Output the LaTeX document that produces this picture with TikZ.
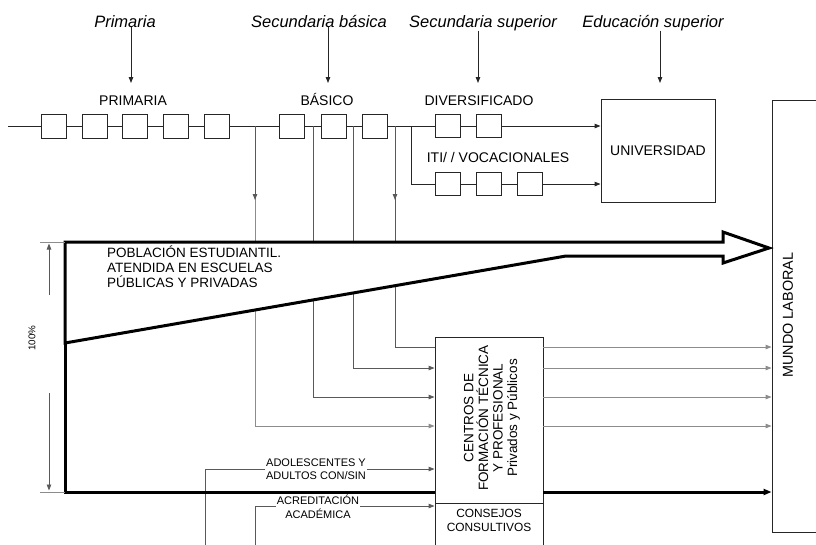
\documentclass[tikz,border=0pt]{standalone}
\usepackage{fontspec}
\setmainfont{Liberation Sans}
\usetikzlibrary{arrows.meta}
\begin{document}
\begin{tikzpicture}[x=1pt,y=-1pt,
  sbox/.style={draw=black!85, line width=0.9pt, minimum width=25pt, minimum height=24pt, inner sep=0pt},
  bigbox/.style={draw=black!85, line width=0.9pt, inner sep=0pt},
  thin/.style={draw=black!85, line width=0.9pt},
  conn/.style={draw=black!65, line width=0.9pt},
  light/.style={draw=black!45, line width=0.9pt},
  tip/.style={-{Triangle[length=6pt,width=4.5pt]}},
  bigtip/.style={-{Triangle[length=8pt,width=6pt]}},
  heavy/.style={line width=3pt, draw=black},
  lab/.style={font=\fontsize{14}{15}\selectfont, inner sep=0pt, anchor=base},
  toplab/.style={font=\fontsize{16.5}{18}\selectfont\itshape, inner sep=0pt, anchor=base},
  small/.style={font=\fontsize{11}{13.5}\selectfont, align=center, fill=white, inner sep=1pt}
]
\useasboundingbox (0,0) rectangle (816,544);
\clip (0,0) rectangle (816,544);

% ---------- top labels ----------
\node[toplab] (tl1) at (125,27) {Primaria};
\node[toplab] (tl2) at (319,27) {Secundaria básica};
\node[toplab] (tl3) at (483,27) {Secundaria superior};
\node[toplab] (tl4) at (653,27) {Educación superior};
\coordinate (a1) at (131,83);
\coordinate (a2) at (328,83);
\coordinate (a3) at (478,83);
\coordinate (a4) at (660,83);
\draw[thin,tip] (tl1.south -| a1) -- (a1);
\draw[thin,tip] (tl2.south -| a2) -- (a2);
\draw[thin,tip] (tl3.south -| a3) -- (a3);
\draw[thin,tip] (tl4.south -| a4) -- (a4);

\node[lab] (lprim) at (133,105) {PRIMARIA};
\node[lab] (lbas) at (327,105) {BÁSICO};
\node[lab] (ldiv) at (479,105) {DIVERSIFICADO};
\node[lab] (liti) at (498,162) {ITI/ / VOCACIONALES};

% ---------- big boxes ----------
\node[bigbox, minimum width=114pt, minimum height=103pt, font=\fontsize{14}{15}\selectfont] (univ) at (658,150.5) {UNIVERSIDAD};
\node[bigbox, minimum width=70pt, minimum height=432pt] (mundo) at (807,316) {};
\node[font=\fontsize{14.4}{15}\selectfont, rotate=90, inner sep=0pt] (mtext) at (788,315) {MUNDO LABORAL};
\node[bigbox, minimum width=108pt, minimum height=166pt] (centros) at (489,420) {};
\node[bigbox, minimum width=108pt, minimum height=60pt, anchor=north] (consejos) at (centros.south) {};
\node[font=\fontsize{11.9}{14}\selectfont, align=center, inner sep=0pt] (ctxt) at (489,520) {CONSEJOS\\CONSULTIVOS};
\node[font=\fontsize{13.5}{14.6}\selectfont, align=center, rotate=90, inner sep=0pt] (cent) at (492,418) {CENTROS DE\\FORMACIÓN TÉCNICA\\Y PROFESIONAL\\Privados y Públicos};

% ---------- level coordinates ----------
\coordinate (yA) at (0,347);
\coordinate (yB) at (0,368);
\coordinate (yC) at (0,397);
\coordinate (yD) at (0,426);
\coordinate (yE) at (0,469);
\coordinate (yF) at (0,506);
\coordinate (yG) at (0,492);

% ---------- chain of boxes ----------
\coordinate (s0) at (8,126);
\foreach \i/\x in {1/53.5,2/94.5,3/135,4/176,5/216.5} \node[sbox] (p\i) at (\x,126) {};
\foreach \i/\x in {1/291.5,2/333.5,3/374.5} \node[sbox] (b\i) at (\x,126) {};
\foreach \i/\x in {1/447.5,2/488.5} \node[sbox, minimum height=23pt] (d\i) at (\x,126) {};
\foreach \i/\x in {1/447.5,2/488.5,3/530} \node[sbox, minimum height=23pt] (i\i) at (\x,184) {};
\coordinate (j1) at (255,126);
\coordinate (j2) at (313,126);
\coordinate (j3) at (353,126);
\coordinate (j4) at (395,126);
\coordinate (j5) at (411,126);
\coordinate (t1) at (255,200);
\coordinate (t4) at (395,200);

\draw[thin] (s0) -- (p1) -- (p2) -- (p3) -- (p4) -- (p5) -- (b1) -- (b2) -- (b3) -- (d1) -- (d2);
\draw[thin] (j5) |- (i1.west);
\draw[thin] (i1) -- (i2) -- (i3);
\draw[thin,tip] (d2) -- (d2 -| univ.west);
\draw[thin,tip] (i3) -- (i3 -| univ.west);

% ---------- descending connectors ----------
\draw[conn] (j4) |- (yA -| centros.west);
\draw[conn,tip] (j3) |- (yB -| centros.west);
\draw[conn,tip] (j2) |- (yC -| centros.west);
\draw[light,tip] (j1) |- (yD -| centros.west);
\draw[conn,tip] (j1) -- (t1);
\draw[conn,tip] (j4) -- (t4);
\coordinate (e1) at (205,560);
\coordinate (e2) at (255,560);
\draw[conn,tip] (e1) |- (yE -| centros.west);
\draw[conn,tip] (e2) |- (yF -| centros.west);

% ---------- outputs ----------
\foreach \c in {yA,yB,yC,yD} \draw[light,tip] (\c -| centros.east) -- (\c -| mundo.west);
\draw[heavy,bigtip] (yG -| centros.east) -- (yG -| mundo.west);

% ---------- big arrow ----------
\draw[heavy, fill=white, line join=miter] (65,343) -- (65,242) -- (723,242) -- (723,232) -- (769,248) -- (723,263) -- (723,256) -- (566,256) -- cycle;
\draw[heavy, line join=miter] (65,341) -- (65,492) -- (yG -| centros.west);
\node[font=\fontsize{13.5}{15}\selectfont, align=left, anchor=north west, inner sep=0pt] (pob) at (107,246) {POBLACIÓN ESTUDIANTIL.\\ATENDIDA EN ESCUELAS\\PÚBLICAS Y PRIVADAS};

% ---------- labels with white background ----------
\node[small] (adol) at (316,469) {ADOLESCENTES Y\\ADULTOS CON/SIN};
\node[small] (acre) at (318,507) {ACREDITACIÓN\\ACADÉMICA};

% ---------- 100% dimension ----------
\coordinate (k1) at (40,242);
\coordinate (k2) at (40,492);
\coordinate (k3) at (49,295);
\coordinate (k4) at (49,243.5);
\coordinate (k5) at (49,393);
\coordinate (k6) at (49,490.5);
\draw[light] (k1) -- (65,242);
\draw[light] (k2) -- (65,492);
\draw[conn,tip] (k3) -- (k4);
\draw[conn,tip] (k5) -- (k6);
\node[font=\fontsize{9.8}{10}\selectfont, rotate=90, inner sep=0pt] (pct) at (32,338) {100\%};
\end{tikzpicture}
\end{document}
